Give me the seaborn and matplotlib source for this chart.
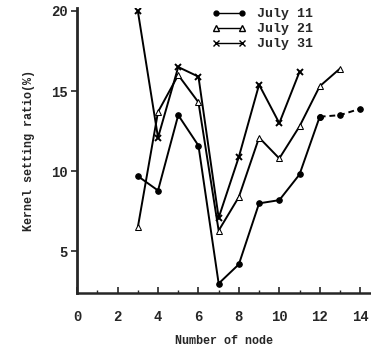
import numpy as np
import pandas as pd
import matplotlib
matplotlib.use("Agg")
from matplotlib import pyplot as plt
from matplotlib.lines import Line2D
import seaborn as sns

sns.set_style("ticks")
plt.rcParams['font.family'] = ['Liberation Mono', 'DejaVu Sans Mono']
plt.rcParams['font.weight'] = 'bold'
plt.rcParams['axes.labelweight'] = 'bold'

# node numbers and kernel setting ratio (%)
nodes_11 = [3, 4, 5, 6, 7, 8, 9, 10, 11, 12, 13, 14]
july_11 = [9.7, 8.8, 13.5, 11.6, 3.0, 4.2, 8.0, 8.2, 9.8, 13.4, 13.5, 13.9]
nodes_21 = [3, 4, 5, 6, 7, 8, 9, 10, 11, 12, 13]
july_21 = [6.5, 13.7, 16.0, 14.3, 6.3, 8.4, 12.1, 10.8, 12.8, 15.3, 16.4]
nodes_31 = [3, 4, 5, 6, 7, 8, 9, 10, 11]
july_31 = [20.0, 12.1, 16.5, 15.9, 7.1, 10.9, 15.4, 13.0, 16.2]

x_ticks = [0, 2, 4, 6, 8, 10, 12, 14]
y_ticks = [5, 10, 15, 20]

fig = plt.figure(figsize=(3.71, 3.49), dpi=100)
ax = fig.add_axes([0.208, 0.16, 0.79, 0.818])

# July 11: solid up to node 12, dashed after
sns.lineplot(x=nodes_11[:10], y=july_11[:10], ax=ax, color='black', lw=1.4,
             marker='o', markersize=4, markeredgecolor='black')
sns.lineplot(x=nodes_11[9:], y=july_11[9:], ax=ax, color='black', lw=1.4,
             linestyle=(0, (3, 2)), marker='o', markersize=4, markeredgecolor='black')
sns.lineplot(x=nodes_21, y=july_21, ax=ax, color='black', lw=1.4,
             marker='^', markersize=5, markerfacecolor='white', markeredgecolor='black')
sns.lineplot(x=nodes_31, y=july_31, ax=ax, color='black', lw=1.4,
             marker='x', markersize=5, markeredgecolor='black', markeredgewidth=1.4)

ax.set_xlim(0, 14.5)
ax.set_ylim(2.4, 20.2)
ax.set_xticks(x_ticks)
ax.set_xticks(range(0, 15), minor=True)
ax.set_yticks(y_ticks)
ax.tick_params(axis='x', direction='in', length=4, width=1.2, pad=12, labelsize=10)
ax.tick_params(axis='x', which='minor', direction='in', length=2, width=1)
ax.tick_params(axis='y', direction='out', length=4, width=1.2, pad=3, labelsize=10)
sns.despine(ax=ax)
ax.spines['left'].set_linewidth(2)
ax.spines['bottom'].set_linewidth(1.8)

ax.set_xlabel('Number of node', fontsize=8.5, labelpad=8)
ax.set_ylabel('Kernel setting ratio(%)', fontsize=8.5, labelpad=11)

handles = [
    Line2D([], [], color='black', lw=1, marker='o', markersize=3.5),
    Line2D([], [], color='black', lw=1, marker='^', markersize=4.5, markerfacecolor='white'),
    Line2D([], [], color='black', lw=1, marker='x', markersize=4.5),
]
ax.legend(handles, ['July 11', 'July 21', 'July 31'], loc='upper left',
          bbox_to_anchor=(0.42, 1.04), frameon=False, numpoints=2,
          handlelength=2.6, handletextpad=0.8, labelspacing=0.2, fontsize=9.5)

fig.savefig('out.png', dpi=100)
